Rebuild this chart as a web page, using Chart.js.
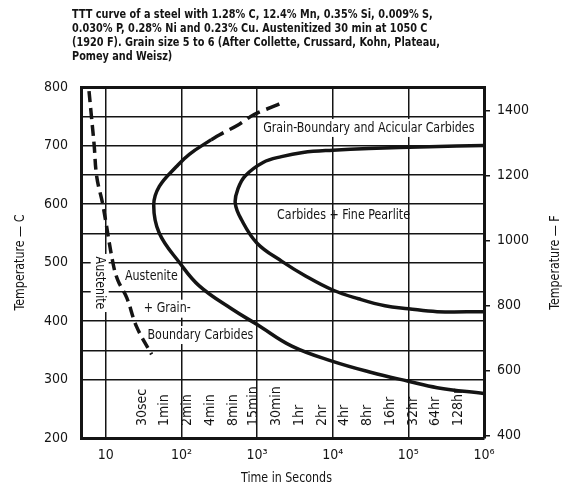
<!DOCTYPE html>
<html>
<head>
<meta charset="utf-8">
<script src="https://cdn.jsdelivr.net/npm/chart.js@4.4.0/dist/chart.umd.min.js"></script>
<style>
  html, body { margin: 0; padding: 0; background: #fff; }
  #wrap { position: relative; width: 571px; height: 489px; }
</style>
</head>
<body>
<div id="wrap"><canvas id="tttChart"></canvas></div>
<script>
// values: time in seconds, temperature in C
const austeniteTime = [6.0, 6.4, 7.0, 7.6, 9.1, 12.4, 14.4, 18.9, 25.6, 40.3];
const austeniteTemp = [793, 755, 702, 646, 600, 500, 470, 440, 390, 343];

// outer C-curve (start of carbide precipitation), solid part
const startTime = [248, 127, 86, 51, 43, 51, 94, 172, 470, 1000, 2880, 10000, 32600, 100000, 240000, 1000000];
const startTemp = [710, 685, 664, 630, 598, 550, 500, 460, 420, 394, 357, 331, 312, 297, 286, 276];

// dashed continuation of the outer curve
const startDashTime = [248, 316, 575, 913, 1740, 2300];
const startDashTemp = [710, 718, 736, 753, 768, 775];

// inner C-curve (carbides + fine pearlite)
const pearliteTime = [1000000, 190000, 30000, 10000, 4030, 2100, 1200, 695, 563, 514, 617, 1000, 2130, 4370, 10000, 21900, 49000, 100000, 240000, 1000000];
const pearliteTemp = [700, 698, 695, 692, 688, 681, 671, 648, 627, 602, 574, 533, 502, 477, 453, 438, 426, 421, 416, 416];

// axes
const xTickValues = [10, 100, 1000, 10000, 100000, 1000000];
const xTickLabels = ['10', '10²', '10³', '10⁴', '10⁵', '10⁶'];
const cTickValues = [200, 300, 400, 500, 600, 700, 800];
const fTickValues = [400, 600, 800, 1000, 1200, 1400];

// time marks along the bottom
const timeMarkLabels = ['30sec', '1min', '2min', '4min', '8min', '15min', '30min', '1hr', '2hr', '4hr', '8hr', '16hr', '32hr', '64hr', '128hr'];
const timeMarkSeconds = [30, 60, 120, 240, 480, 900, 1800, 3600, 7200, 14400, 28800, 57600, 115200, 230400, 460800];

// field labels
const regionText = ['Grain-Boundary and Acicular Carbides', 'Carbides + Fine Pearlite', 'Austenite', '+ Grain-', 'Boundary Carbides'];
const regionTime = [30000, 13900, 40, 65, 178];
const regionTemp = [730, 581, 476, 421, 376];
const regionMask = [true, false, true, true, true];

const titleLines = [
  'TTT curve of a steel with 1.28% C, 12.4% Mn, 0.35% Si, 0.009% S,',
  '0.030% P, 0.28% Ni and 0.23% Cu. Austenitized 30 min at 1050 C',
  '(1920 F). Grain size 5 to 6 (After Collette, Crussard, Kohn, Plateau,',
  'Pomey and Weisz)'
];

const FONT = "'Liberation Sans Narrow', 'Arial Narrow', 'DejaVu Sans Condensed', sans-serif";
const INK = '#141414';
const SQUEEZE = 0.88; // the plate uses a narrower face than we have

const toPts = (xs, ys) => xs.map((x, i) => ({x: x, y: ys[i]}));

function putText(ctx, text, x, y, size, opts) {
  opts = opts || {};
  const sq = opts.squeeze || SQUEEZE;
  ctx.save();
  ctx.font = (opts.weight || 'normal') + ' ' + size + 'px ' + FONT;
  ctx.translate(x, y);
  if (opts.rotate) ctx.rotate(opts.rotate);
  ctx.scale(sq, 1);
  ctx.textAlign = opts.align || 'center';
  ctx.textBaseline = 'middle';
  if (opts.mask) {
    const w = ctx.measureText(text).width;
    const x0 = ctx.textAlign === 'left' ? 0 : -w / 2;
    ctx.fillStyle = '#fff';
    ctx.fillRect(x0 - 3, -size / 2 - 2, w + 6, size + 4);
  }
  ctx.fillStyle = INK;
  ctx.fillText(text, 0, 0);
  ctx.restore();
}

const plateText = {
  id: 'plateText',
  beforeDatasetsDraw(chart) {
    const ctx = chart.ctx;
    const xs = chart.scales.x, ys = chart.scales.y;
    const area = chart.chartArea;

    regionText.forEach((t, i) => {
      putText(ctx, t, xs.getPixelForValue(regionTime[i]), ys.getPixelForValue(regionTemp[i]), 14, {mask: regionMask[i]});
    });

    // sideways "Austenite" next to the dashed line
    putText(ctx, 'Austenite', xs.getPixelForValue(8.3), ys.getPixelForValue(465), 14, {rotate: Math.PI / 2, mask: true});

    timeMarkLabels.forEach((t, i) => {
      putText(ctx, t, xs.getPixelForValue(timeMarkSeconds[i]), area.bottom - 12, 14, {rotate: -Math.PI / 2, align: 'left', squeeze: 1});
    });
  },
  afterDraw(chart) {
    const ctx = chart.ctx;
    const area = chart.chartArea;
    titleLines.forEach((line, i) => {
      putText(ctx, line, 72, 15 + i * 14, 12.5, {align: 'left', weight: 'bold', squeeze: 0.865});
    });
    const midY = (area.top + area.bottom) / 2;
    putText(ctx, 'Temperature — C', area.left - 61, midY, 14, {rotate: -Math.PI / 2});
    putText(ctx, 'Temperature — F', area.right + 71, midY, 14, {rotate: -Math.PI / 2});
    putText(ctx, 'Time in Seconds', (area.left + area.right) / 2 + 4, area.bottom + 40, 14);
  }
};

const tickFont = {family: FONT, size: 14};

new Chart(document.getElementById('tttChart'), {
  type: 'line',
  data: {
    datasets: [
      {label: 'Austenite limit', data: toPts(austeniteTime, austeniteTemp), borderDash: [11, 6]},
      {label: 'Start', data: toPts(startTime, startTemp)},
      {label: 'Start, dashed', data: toPts(startDashTime, startDashTemp), borderDash: [14, 7]},
      {label: 'Carbides + Fine Pearlite', data: toPts(pearliteTime, pearliteTemp)}
    ]
  },
  options: {
    responsive: true,
    maintainAspectRatio: false,
    animation: false,
    layout: {padding: {top: 87, left: 0, right: 0, bottom: 0}},
    elements: {
      point: {radius: 0},
      line: {borderColor: INK, borderWidth: 3.5, tension: 0.4, fill: false, borderCapStyle: 'butt'}
    },
    plugins: {legend: {display: false}, tooltip: {enabled: false}},
    scales: {
      x: {
        type: 'logarithmic',
        min: 4.7,
        max: 1000000,
        afterBuildTicks: s => { s.ticks = xTickValues.map(v => ({value: v})); },
        afterFit: s => { s.height = 51; },
        ticks: {callback: (v, i) => xTickLabels[i], font: tickFont, color: INK, padding: 9, maxRotation: 0, autoSkip: false},
        grid: {color: INK, lineWidth: 1.5, drawTicks: false},
        border: {color: INK, width: 3}
      },
      y: {
        type: 'linear',
        min: 200,
        max: 800,
        afterFit: s => { s.width = 81; },
        ticks: {stepSize: 50, autoSkip: false, font: tickFont, color: INK, padding: 13,
          callback: v => cTickValues.includes(v) ? String(v) : ''},
        grid: {
          drawTicks: false,
          color: c => (c.tick && c.tick.value >= 300) ? INK : 'rgba(0,0,0,0)',
          lineWidth: c => (c.tick && c.tick.value === 800) ? 3 : 1.5
        },
        border: {color: INK, width: 3}
      },
      y2: {
        type: 'linear',
        position: 'right',
        min: 200 * 9 / 5 + 32,
        max: 800 * 9 / 5 + 32,
        afterBuildTicks: s => { s.ticks = fTickValues.map(v => ({value: v})); },
        afterFit: s => { s.width = 87; },
        ticks: {font: tickFont, color: INK, padding: 7, callback: v => String(v)},
        grid: {drawOnChartArea: false, drawTicks: true, tickLength: 6, color: INK, lineWidth: 1.5},
        border: {color: INK, width: 3}
      }
    }
  },
  plugins: [plateText]
});
</script>
</body>
</html>
